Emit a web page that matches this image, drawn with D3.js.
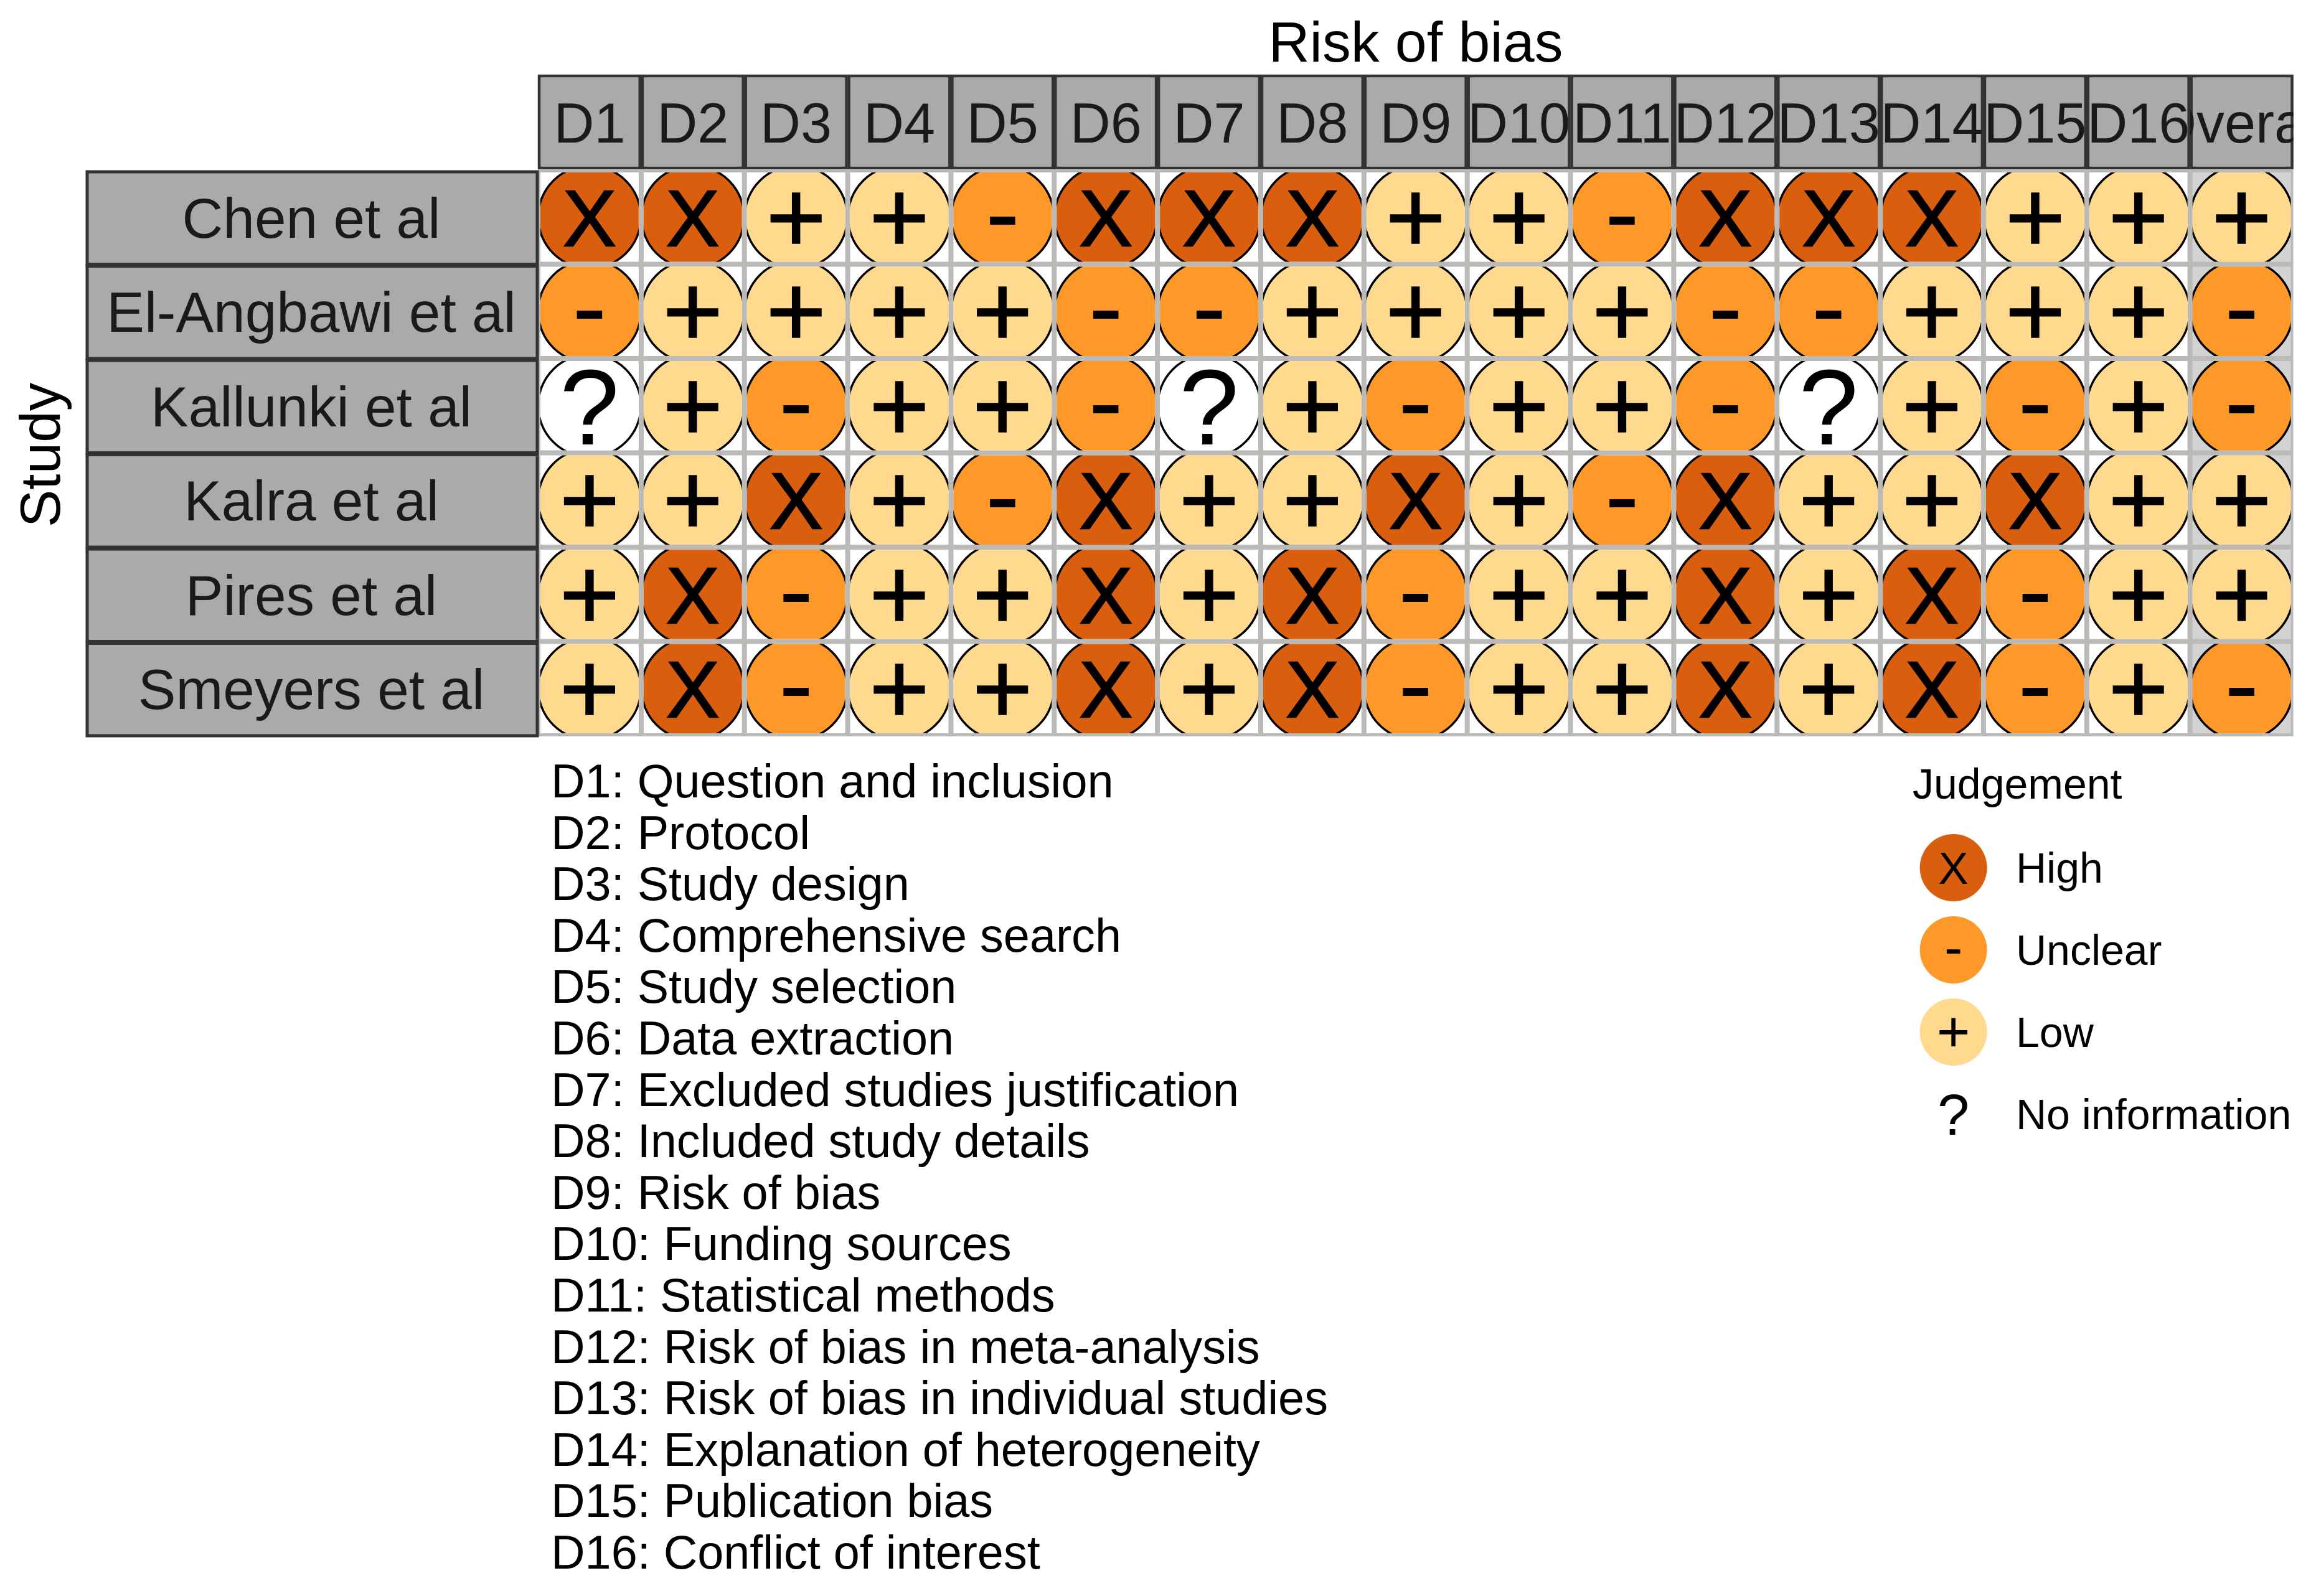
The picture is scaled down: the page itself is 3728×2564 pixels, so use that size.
<!DOCTYPE html>
<html><head><meta charset="utf-8">
<script src="https://d3js.org/d3.v7.min.js"></script>
<style>html,body{margin:0;padding:0;background:#fff}svg{display:block}text{font-family:"Liberation Sans",Arial,sans-serif}</style>
</head><body><svg id="c" width="3728" height="2564"></svg>
<script>
const studies = ["Chen et al","El-Angbawi et al","Kallunki et al","Kalra et al","Pires et al","Smeyers et al"];
const domains = ["D1","D2","D3","D4","D5","D6","D7","D8","D9","D10","D11","D12","D13","D14","D15","D16","Overall"];
const chen      = ["X","X","+","+","-","X","X","X","+","+","-","X","X","X","+","+","+"];
const elAngbawi = ["-","+","+","+","+","-","-","+","+","+","+","-","-","+","+","+","-"];
const kallunki  = ["?","+","-","+","+","-","?","+","-","+","+","-","?","+","-","+","-"];
const kalra     = ["+","+","X","+","-","X","+","+","X","+","-","X","+","+","X","+","+"];
const pires     = ["+","X","-","+","+","X","+","X","-","+","+","X","+","X","-","+","+"];
const smeyers   = ["+","X","-","+","+","X","+","X","-","+","+","X","+","X","-","+","-"];
const judgementRows = [chen,elAngbawi,kallunki,kalra,pires,smeyers];
const captions = ["D1: Question and inclusion","D2: Protocol","D3: Study design","D4: Comprehensive search","D5: Study selection","D6: Data extraction","D7: Excluded studies justification","D8: Included study details","D9: Risk of bias","D10: Funding sources","D11: Statistical methods","D12: Risk of bias in meta-analysis","D13: Risk of bias in individual studies","D14: Explanation of heterogeneity","D15: Publication bias","D16: Conflict of interest"];
const legendLabels = ["High","Unclear","Low","No information"];
const legendSymbols = ["X","-","+","?"];
const fills = {"X":"#d95f0e","-":"#fe9929","+":"#fed98e","?":"#ffffff"};
const glyphSize = {"X":128,"-":166,"+":166,"?":172};
const glyphDy   = {"X":46,"-":49,"+":57,"?":62};
const glyphStroke = {"X":2.5,"-":0,"+":1.5,"?":0};
const legendSize = {"X":72,"-":88,"+":92,"?":92};
const legendDy   = {"X":26,"-":26,"+":31,"?":33};

const svg = d3.select("#c");
const x = d3.scaleBand().domain(domains).range([864,3683.5]);
const y = d3.scaleBand().domain(studies).range([273,1182]);
const inset = 4;
const cells = judgementRows.flatMap((row,i)=>row.map((v,j)=>({study:studies[i],domain:domains[j],v,i,j})));

svg.append("rect").attr("x",x.range()[0]).attr("y",y.range()[0]).attr("width",x.range()[1]-x.range()[0]).attr("height",y.range()[1]-y.range()[0]+1).attr("fill","#bcbab7");

const defs = svg.append("defs");
defs.selectAll("clipPath.cell").data(cells).join("clipPath").attr("class","cell").attr("id",d=>`cc${d.i}_${d.j}`)
  .append("rect").attr("x",d=>x(d.domain)+inset).attr("y",d=>y(d.study)+inset).attr("width",x.bandwidth()-2*inset).attr("height",y.bandwidth()-2*inset);
defs.selectAll("clipPath.strip").data(domains).join("clipPath").attr("class","strip").attr("id",(d,i)=>`cs${i}`)
  .append("rect").attr("x",d=>x(d)).attr("y",120).attr("width",x.bandwidth()).attr("height",150);

const g = svg.append("g").selectAll("g").data(cells).join("g").attr("clip-path",d=>`url(#cc${d.i}_${d.j})`);
g.append("rect").attr("x",d=>x(d.domain)).attr("y",d=>y(d.study)).attr("width",x.bandwidth()).attr("height",y.bandwidth())
  .attr("fill",d=>d.domain==="Overall"?"#d3d3d3":"#ffffff");
g.append("circle").attr("cx",d=>x(d.domain)+x.bandwidth()/2).attr("cy",d=>y(d.study)+y.bandwidth()/2).attr("r",82.5)
  .attr("fill",d=>fills[d.v]).attr("stroke","#000").attr("stroke-width",3.5);
g.append("text").attr("x",d=>x(d.domain)+x.bandwidth()/2).attr("y",d=>y(d.study)+y.bandwidth()/2+glyphDy[d.v])
  .attr("text-anchor","middle").attr("font-size",d=>glyphSize[d.v]).attr("fill","#000")
  .attr("stroke","#000").attr("stroke-width",d=>glyphStroke[d.v]).text(d=>d.v);

const tops = svg.append("g").selectAll("g").data(domains).join("g");
tops.append("rect").attr("x",d=>x(d)+2).attr("y",122).attr("width",x.bandwidth()-4).attr("height",148)
  .attr("fill","#aaaaaa").attr("stroke","#333").attr("stroke-width",4.5);
tops.append("g").attr("clip-path",(d,i)=>`url(#cs${i})`).append("text").attr("x",d=>x(d)+x.bandwidth()/2).attr("y",229)
  .attr("text-anchor","middle").attr("font-size",90).attr("fill","#1a1a1a").text(d=>d);

const lefts = svg.append("g").selectAll("g").data(studies).join("g");
lefts.append("rect").attr("x",140).attr("y",d=>y(d)+3).attr("width",723).attr("height",y.bandwidth()-3)
  .attr("fill","#aaaaaa").attr("stroke","#333").attr("stroke-width",5);
lefts.append("text").attr("x",500).attr("y",d=>y(d)+y.bandwidth()/2+33)
  .attr("text-anchor","middle").attr("font-size",91).attr("fill","#1a1a1a").text(d=>d);

svg.append("text").attr("x",2274).attr("y",99).attr("text-anchor","middle").attr("font-size",91.5).attr("fill","#000").text("Risk of bias");
svg.append("text").attr("transform","translate(96,731) rotate(-90)").attr("text-anchor","middle").attr("font-size",91).attr("fill","#000").text("Study");

const capY = d3.scalePoint().domain(captions).range([1253,2492]);
svg.append("g").selectAll("text").data(captions).join("text").attr("x",885).attr("y",d=>capY(d)+28)
  .attr("font-size",75.6).attr("fill","#000").text(d=>d);

svg.append("text").attr("x",3072).attr("y",1283).attr("font-size",68).attr("fill","#000").text("Judgement");
const legY = d3.scalePoint().domain(legendLabels).range([1394,1790]);
const leg = svg.append("g").selectAll("g").data(legendLabels).join("g");
leg.append("circle").attr("cx",3137.6).attr("cy",d=>legY(d)).attr("r",54).attr("fill",(d,i)=>fills[legendSymbols[i]]);
leg.append("text").attr("x",3137.6).attr("y",(d,i)=>legY(d)+legendDy[legendSymbols[i]]).attr("text-anchor","middle")
  .attr("font-size",(d,i)=>legendSize[legendSymbols[i]]).attr("fill","#000").text((d,i)=>legendSymbols[i]);
leg.append("text").attr("x",3238).attr("y",d=>legY(d)+24).attr("font-size",68).attr("fill","#000").text(d=>d);
</script></body></html>
